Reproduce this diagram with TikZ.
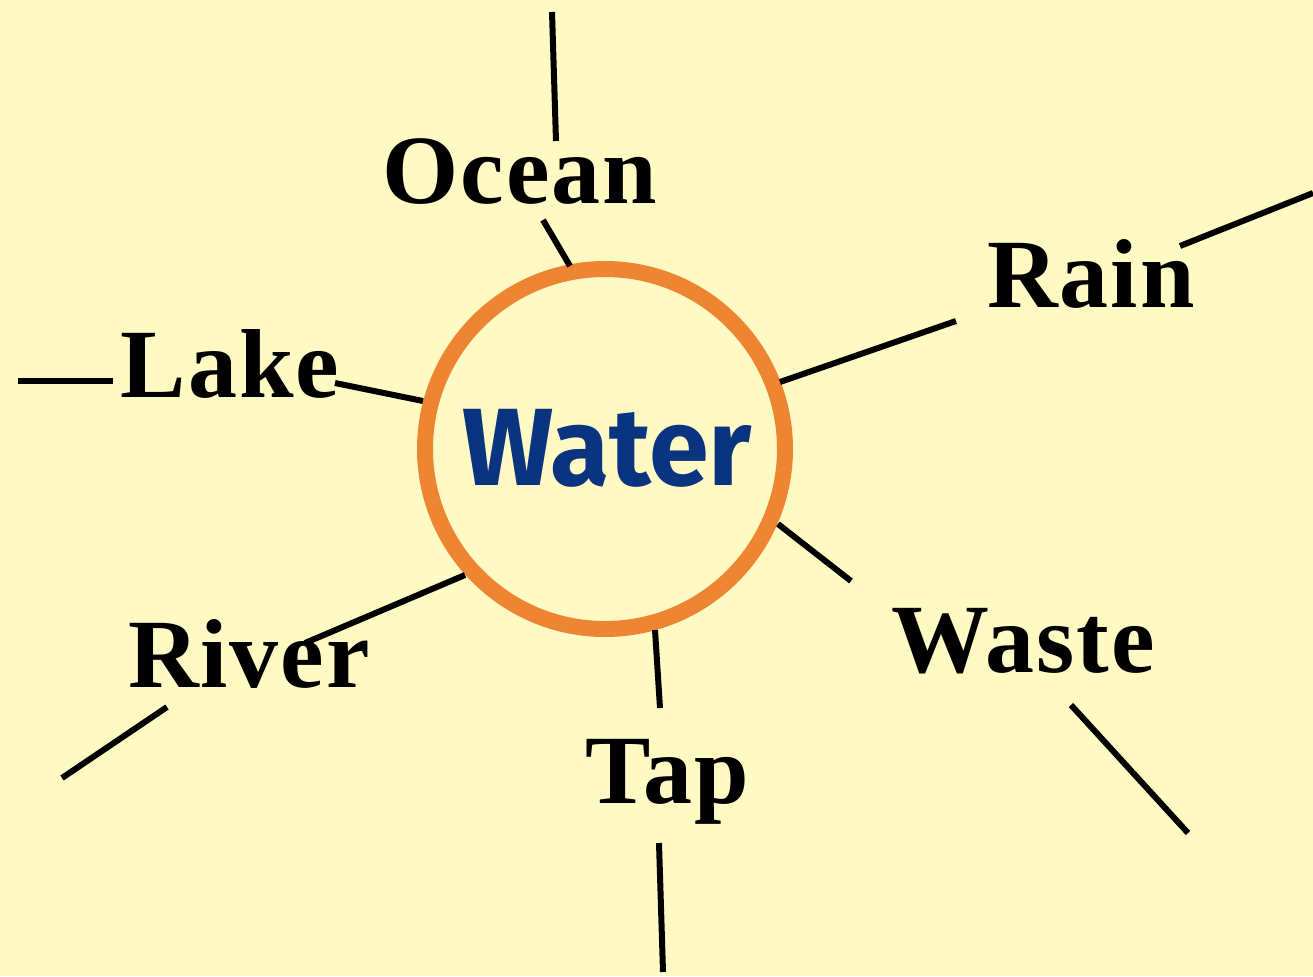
\documentclass[tikz,border=0pt]{standalone}
\usepackage{fontspec}
\setmainfont{Liberation Serif}
\newfontfamily\labelfont[LetterSpace=2]{Liberation Serif}
\newfontfamily\centerfont{Fira Sans}
\definecolor{bgyellow}{HTML}{FFFAC4}
\definecolor{ringorange}{HTML}{EE8533}
\definecolor{waterblue}{HTML}{0A3380}
\tikzset{
  spoke/.style={line width=3pt, black},
  lbl/.style={anchor=base, inner sep=0pt, font=\labelfont\bfseries\fontsize{49}{58}\selectfont},
}
\begin{document}
\begin{tikzpicture}[x=0.5pt,y=-0.5pt]
\fill[bgyellow] (0,0) rectangle (1313,976);
\useasboundingbox (0,0) rectangle (1313,976);
% ring
\node[circle, draw=ringorange, line width=8pt, minimum size=180pt, inner sep=0pt] (hub) at (605,449) {};
\node[anchor=base, inner sep=0pt, text=waterblue, font=\centerfont\bfseries\fontsize{55}{62}\selectfont] (water) at (607,485) {\scalebox{0.98}[1]{Water}};
% labels
\node[lbl] (ocean) at (520,203) {Ocean};
\node[lbl] (rain) at (1091,307) {Rain};
\node[lbl] (lake) at (230,397) {Lake};
\node[lbl] (river) at (249,687) {River};
\node[lbl] (tap) at (667,803) {Tap};
\node[lbl] (waste) at (1023,672) {Waste};
% coordinates
\coordinate (o1) at (552,12);   \coordinate (o2) at (556,141);
\coordinate (o3) at (543,220);  \coordinate (o4) at (570,266);
\coordinate (r1) at (780,382);  \coordinate (r2) at (956,321);
\coordinate (r3) at (1180,246); \coordinate (r4) at (1313,193);
\coordinate (l1) at (18,381);   \coordinate (l2) at (113,381);
\coordinate (l3) at (335,383);  \coordinate (l4) at (423,401);
\coordinate (v1) at (305,643);  \coordinate (v2) at (465,575);
\coordinate (v3) at (62,778);   \coordinate (v4) at (167,707);
\coordinate (t1) at (655,630);  \coordinate (t2) at (660,708);
\coordinate (t3) at (659,843);  \coordinate (t4) at (663,972);
\coordinate (w1) at (778,524);  \coordinate (w2) at (851,581);
\coordinate (w3) at (1071,705); \coordinate (w4) at (1188,833);
\draw[spoke] (o1) -- (o2);
\draw[spoke] (o3) -- (o4);
\draw[spoke] (r1) -- (r2);
\draw[spoke] (r3) -- (r4);
\draw[spoke] (l1) -- (l2);
\draw[spoke] (l3) -- (l4);
\draw[spoke] (v1) -- (v2);
\draw[spoke] (v3) -- (v4);
\draw[spoke] (t1) -- (t2);
\draw[spoke] (t3) -- (t4);
\draw[spoke] (w1) -- (w2);
\draw[spoke] (w3) -- (w4);
\end{tikzpicture}
\end{document}
